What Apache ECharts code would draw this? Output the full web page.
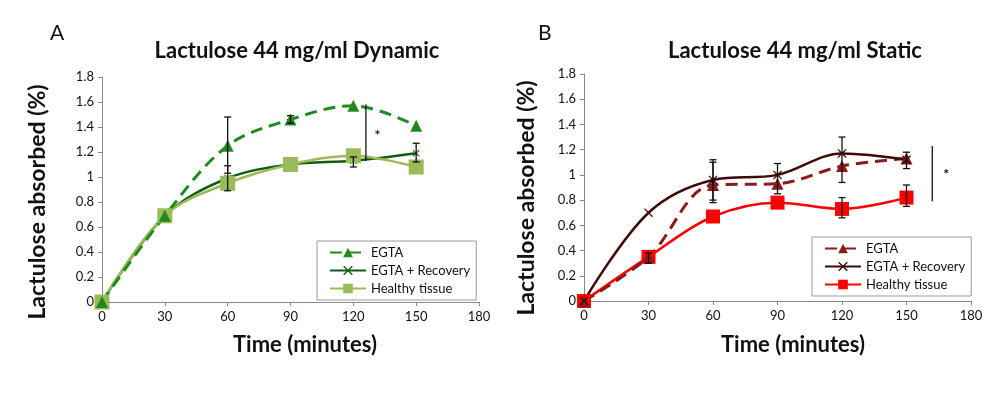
<!DOCTYPE html>
<html>
<head>
<meta charset="utf-8">
<script src="https://cdn.jsdelivr.net/npm/echarts@6/dist/echarts.min.js"></script>
<style>
html,body{margin:0;padding:0;background:#fff;}
#main{width:1004px;height:397px;}
</style>
</head>
<body>
<div id="main"></div>
<script>
// time points (minutes)
var times = [0, 30, 60, 90, 120, 150];

// panel A - dynamic
var dynEgta     = [0, 0.69, 1.25, 1.46, 1.57, 1.41];
var dynRecovery = [0, 0.69, 0.99, 1.10, 1.13, 1.19];
var dynHealthy  = [0, 0.69, 0.95, 1.10, 1.17, 1.08];
// error bars [time, low, high]
var dynErr = [[60, 1.03, 1.48], [60, 0.89, 1.09], [90, 1.43, 1.49], [120, 1.08, 1.16], [150, 1.12, 1.27]];
// significance bracket [time, low, high]
var dynSig = [[126, 1.13, 1.58]];
var dynStar = [[131.5, 1.33]];

// panel B - static
var staEgta     = [0, 0.35, 0.92, 0.93, 1.07, 1.13];
var staRecovery = [0, 0.70, 0.96, 1.00, 1.17, 1.12];
var staHealthy  = [0, 0.35, 0.67, 0.78, 0.73, 0.82];
var staErr = [[30, 0.30, 0.38], [60, 0.78, 1.10], [60, 0.80, 1.12], [90, 0.85, 1.09], [120, 0.94, 1.30],
              [120, 0.66, 0.82], [150, 1.05, 1.18], [150, 0.75, 0.92]];
var staSig = [[162, 0.79, 1.23]];
var staStar = [[168.5, 1.0]];

var FONT = 'Lato';
var crossPath = 'path://M0,1L1,0L5,4L9,0L10,1L6,5L10,9L9,10L5,6L1,10L0,9L4,5Z';

function pairs(ys) {
    return times.map(function (t, i) { return [t, ys[i]]; });
}

function errBar(params, api) {
    var x = api.value(0);
    var lo = api.coord([x, api.value(1)]);
    var hi = api.coord([x, api.value(2)]);
    var w = 3.5;
    var st = {stroke: '#111', lineWidth: 1.3};
    return {type: 'group', children: [
        {type: 'line', shape: {x1: lo[0], y1: lo[1], x2: hi[0], y2: hi[1]}, style: st},
        {type: 'line', shape: {x1: lo[0] - w, y1: lo[1], x2: lo[0] + w, y2: lo[1]}, style: st},
        {type: 'line', shape: {x1: hi[0] - w, y1: hi[1], x2: hi[0] + w, y2: hi[1]}, style: st}
    ]};
}

function sigLine(params, api) {
    var x = api.value(0);
    var lo = api.coord([x, api.value(1)]);
    var hi = api.coord([x, api.value(2)]);
    return {type: 'line', shape: {x1: lo[0], y1: lo[1], x2: hi[0], y2: hi[1]}, style: {stroke: '#111', lineWidth: 1.3}};
}

function starText(params, api) {
    var p = api.coord([api.value(0), api.value(1)]);
    return {type: 'text', x: p[0], y: p[1], style: {text: '*', fill: '#111', font: 'bold 14px ' + FONT, align: 'center', verticalAlign: 'middle'}};
}

function xAxisCfg(idx) {
    return {
        gridIndex: idx, type: 'value', min: 0, max: 180, interval: 30,
        splitLine: {show: false},
        axisLine: {lineStyle: {color: '#888'}},
        axisTick: {length: 4, lineStyle: {color: '#888'}},
        axisLabel: {color: '#111', fontSize: 13, fontFamily: FONT, margin: 8}
    };
}
function yAxisCfg(idx) {
    return {
        gridIndex: idx, type: 'value', min: 0, max: 1.8, interval: 0.2,
        splitLine: {show: false},
        axisLine: {show: true, lineStyle: {color: '#888'}},
        axisTick: {show: true, length: 4, lineStyle: {color: '#888'}},
        axisLabel: {color: '#111', fontSize: 13, fontFamily: FONT, margin: 8,
            formatter: function (v) { return String(Math.round(v * 10) / 10); }}
    };
}

function lineSeries(name, idx, ys, color, symbol, size, dashed, width) {
    return {
        name: name, type: 'line', xAxisIndex: idx, yAxisIndex: idx,
        data: pairs(ys), smooth: 0.35, symbol: symbol, symbolSize: size,
        itemStyle: {color: color},
        lineStyle: {color: color, width: width, type: dashed ? [12, 7] : 'solid'},
        z: 3
    };
}

function legendCfg(left, top, names) {
    return {
        data: names, left: left, top: top, orient: 'vertical',
        itemWidth: 36, itemHeight: 12, itemGap: 5,
        padding: [5, 6, 5, 12],
        borderColor: '#999', borderWidth: 1,
        textStyle: {color: '#111', fontSize: 13, fontFamily: FONT},
        formatter: function (n) { return n.slice(2); }
    };
}

function axisName(text, x, y, rotated) {
    return {
        type: 'text', x: x, y: y, rotation: rotated ? Math.PI / 2 : 0,
        style: {text: text, fill: '#111', font: 'bold ' + (rotated ? 23 : 22) + 'px ' + FONT,
            align: 'center', verticalAlign: 'middle'}
    };
}

var myChart = echarts.init(document.getElementById('main'));
var option = {
    backgroundColor: '#fff',
    animation: false,
    title: [
        {text: 'A', left: 45, top: 18, textStyle: {fontSize: 21, fontWeight: 'normal', color: '#111', fontFamily: FONT}},
        {text: 'B', left: 533, top: 18, textStyle: {fontSize: 21, fontWeight: 'normal', color: '#111', fontFamily: FONT}},
        {text: 'Lactulose 44 mg/ml Dynamic', left: 292, top: 35, textAlign: 'center',
            textStyle: {fontSize: 22, fontWeight: 'bold', color: '#111', fontFamily: FONT}},
        {text: 'Lactulose 44 mg/ml Static', left: 790, top: 35, textAlign: 'center',
            textStyle: {fontSize: 22, fontWeight: 'bold', color: '#111', fontFamily: FONT}}
    ],
    graphic: [
        axisName('Lactulose absorbed (%)', 38, 202, true),
        axisName('Lactulose absorbed (%)', 527, 198, true),
        axisName('Time (minutes)', 305, 345, false),
        axisName('Time (minutes)', 793, 345, false)
    ],
    legend: [
        legendCfg(317, 241, ['A:EGTA', 'A:EGTA + Recovery', 'A:Healthy tissue']),
        legendCfg(812, 237, ['B:EGTA', 'B:EGTA + Recovery', 'B:Healthy tissue'])
    ],
    grid: [
        {left: 102, top: 77, width: 377, height: 225},
        {left: 584, top: 74, width: 387, height: 227}
    ],
    xAxis: [xAxisCfg(0), xAxisCfg(1)],
    yAxis: [yAxisCfg(0), yAxisCfg(1)],
    series: [
        lineSeries('A:EGTA + Recovery', 0, dynRecovery, '#135a13', crossPath, 7, false, 2.5),
        lineSeries('A:Healthy tissue', 0, dynHealthy, '#9bbb59', 'rect', 15, false, 2.5),
        lineSeries('A:EGTA', 0, dynEgta, '#1f8b1f', 'triangle', 12, true, 3),
        {type: 'custom', xAxisIndex: 0, yAxisIndex: 0, renderItem: errBar, data: dynErr, z: 4},
        {type: 'custom', xAxisIndex: 0, yAxisIndex: 0, renderItem: sigLine, data: dynSig, z: 4},
        {type: 'custom', xAxisIndex: 0, yAxisIndex: 0, renderItem: starText, data: dynStar, z: 4},

        lineSeries('B:Healthy tissue', 1, staHealthy, '#ff0000', 'rect', 14, false, 2.5),
        lineSeries('B:EGTA', 1, staEgta, '#8b1a1a', 'triangle', 12, true, 3),
        lineSeries('B:EGTA + Recovery', 1, staRecovery, '#3d0a0a', crossPath, 9, false, 2.5),
        {type: 'custom', xAxisIndex: 1, yAxisIndex: 1, renderItem: errBar, data: staErr, z: 4},
        {type: 'custom', xAxisIndex: 1, yAxisIndex: 1, renderItem: sigLine, data: staSig, z: 4},
        {type: 'custom', xAxisIndex: 1, yAxisIndex: 1, renderItem: starText, data: staStar, z: 4}
    ]
};
myChart.setOption(option);
</script>
</body>
</html>
